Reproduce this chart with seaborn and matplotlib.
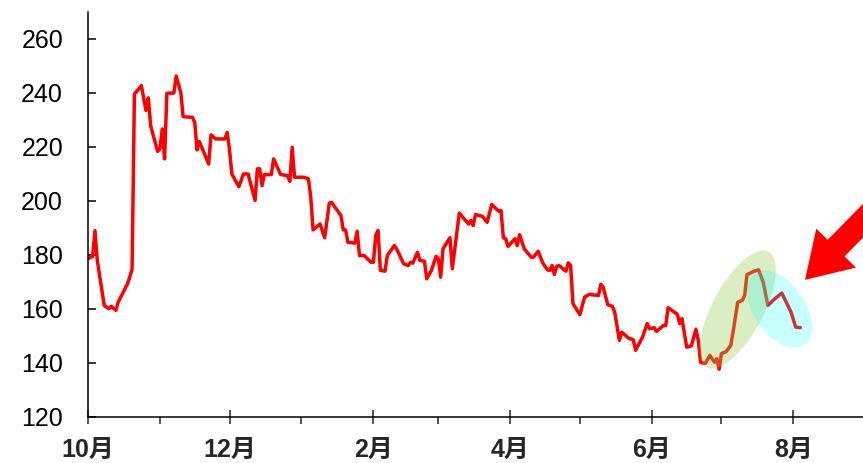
import pandas as pd
import seaborn as sns
import matplotlib.pyplot as plt
import matplotlib.dates as mdates
from matplotlib.patches import Ellipse
from matplotlib.transforms import ScaledTranslation
from matplotlib.ticker import FuncFormatter

# price series (days counted from the start date)
start_date = "2018-10-01"
end_date = "2019-08-31"
day_offset = [0, 2, 3, 4, 7, 9, 10, 12, 13, 17, 18, 19, 20, 23, 25, 26, 27, 30, 31, 32,
              33, 34, 37, 38, 40, 41, 45, 46, 47, 48, 52, 53, 55, 59, 60, 61, 62, 65, 67, 69,
              72, 73, 74, 75, 76, 79, 80, 83, 86, 87, 88, 89, 93, 95, 96, 97, 100, 102, 104, 105,
              109, 110, 111, 112, 115, 116, 117, 119, 122, 123, 124, 125, 126, 128, 129, 132, 133, 136, 138, 139,
              140, 142, 143, 145, 146, 148, 150, 151, 152, 153, 156, 157, 160, 164, 165, 166, 167, 170, 172, 174,
              177, 178, 179, 180, 181, 184, 185, 186, 188, 191, 192, 194, 196, 198, 199, 200, 201, 202, 203, 206,
              207, 208, 209, 212, 214, 216, 220, 221, 222, 224, 226, 227, 229, 230, 233, 235, 236, 239, 241, 242,
              244, 245, 248, 249, 250, 254, 255, 256, 258, 260, 262, 263, 264, 266, 268, 270, 271, 272, 273, 275,
              277, 278, 280, 282, 283, 284, 287, 289, 291, 293, 296, 299, 303, 305, 307]
price = [178.6, 179.5, 189.0, 178.0, 161.3, 160.1, 161.0, 159.5, 162.5, 169.3, 171.8, 174.9, 239.6, 242.7, 233.5, 238.2, 227.9, 218.4, 219.3, 226.7,
         215.6, 239.9, 240.0, 246.3, 240.2, 231.2, 231.0, 229.1, 218.9, 222.0, 213.7, 224.5, 223.0, 223.0, 225.4, 218.9, 210.0, 205.3, 210.0, 210.0,
         200.2, 211.9, 211.9, 205.7, 209.8, 209.8, 215.6, 209.8, 209.4, 207.3, 219.9, 208.8, 208.8, 208.2, 201.4, 189.3, 191.5, 186.4, 199.2, 199.5,
         194.6, 189.3, 189.3, 184.7, 184.4, 188.8, 179.8, 179.8, 177.3, 177.3, 187.2, 189.1, 174.3, 174.0, 179.8, 183.5, 182.3, 176.8, 176.1, 177.3,
         177.0, 181.0, 178.0, 177.7, 171.2, 174.3, 179.5, 178.6, 171.8, 182.3, 186.4, 174.9, 195.5, 191.5, 192.8, 190.9, 195.0, 194.3, 192.1, 198.7,
         196.2, 196.5, 186.4, 186.0, 183.2, 186.0, 183.5, 187.5, 182.3, 179.2, 179.2, 181.4, 177.0, 174.5, 174.3, 176.1, 172.8, 175.8, 176.1, 174.0,
         177.1, 176.1, 162.0, 157.9, 164.4, 165.4, 165.0, 169.1, 168.1, 161.6, 161.0, 158.8, 148.4, 151.4, 149.2, 148.6, 144.7, 149.6, 154.6, 152.7,
         153.1, 151.7, 153.9, 153.9, 160.5, 158.0, 154.6, 156.4, 145.9, 146.3, 152.5, 148.4, 140.3, 139.8, 142.8, 140.3, 141.6, 137.7, 143.5, 144.2,
         146.5, 151.4, 162.5, 163.2, 165.0, 172.7, 174.0, 174.5, 169.9, 161.3, 163.8, 165.9, 158.8, 153.3, 153.1]

major_months = [10, 12, 2, 4, 6, 8]
minor_months = [11, 1, 3, 5, 7]
y_ticks = [120, 140, 160, 180, 200, 220, 240, 260]

# highlight ellipses: (centre date, centre value, width in, height in, angle, colour, alpha)
ellipses = [("2019-07-08", 159.8, 1.31, 0.51, 62, "#92d050", 0.35),
            ("2019-07-26", 160.0, 0.87, 0.51, -55, "#00ffff", 0.22)]
arrow_tip = ("2019-08-06", 170.8)

sns.set_style("ticks")
plt.rcParams['font.family'] = ['Liberation Sans', 'Noto Sans CJK SC', 'DejaVu Sans']

dates = pd.to_datetime(start_date) + pd.to_timedelta(day_offset, unit="D")
df = pd.DataFrame({"date": dates, "price": price})

fig = plt.figure(figsize=(8.63, 4.63), dpi=100)
ax = fig.add_axes([88/863, 46/463, 775/863, 405/463])

sns.lineplot(data=df, x="date", y="price", color="red", linewidth=2.5, ax=ax)

ax.set_xlim(pd.to_datetime(start_date), pd.to_datetime(end_date))
ax.set_ylim(120, 270)
ax.set_yticks(y_ticks)
ax.set_xlabel("")
ax.set_ylabel("")

ax.xaxis.set_major_locator(mdates.MonthLocator(bymonth=major_months))
ax.xaxis.set_minor_locator(mdates.MonthLocator(bymonth=minor_months))
ax.xaxis.set_major_formatter(FuncFormatter(lambda v, p: f"{mdates.num2date(v).month}月"))

ax.tick_params(axis="y", direction="in", length=6, width=1.1, labelsize=18, pad=18, colors="black")
ax.tick_params(axis="x", which="major", direction="inout", length=10, width=1.1, labelsize=18, pad=10)
ax.tick_params(axis="x", which="minor", direction="out", length=5, width=1.1)
for lab in ax.get_xticklabels():
    lab.set_fontweight("bold")

sns.despine(ax=ax)
for s in ["left", "bottom"]:
    ax.spines[s].set_linewidth(1.1)
    ax.spines[s].set_color("black")

for d, v, w, h, ang, col, a in ellipses:
    xn = mdates.date2num(pd.to_datetime(d))
    e = Ellipse((0, 0), w, h, angle=ang, facecolor=col, alpha=a, edgecolor="none",
                transform=fig.dpi_scale_trans + ScaledTranslation(xn, v, ax.transData), zorder=3)
    ax.add_patch(e)

ax.annotate("", xy=(pd.to_datetime(arrow_tip[0]), arrow_tip[1]), xytext=(905, 285),
            textcoords="figure pixels", annotation_clip=False,
            arrowprops=dict(arrowstyle="simple,head_length=32,head_width=40,tail_width=17",
                            mutation_scale=1, color="red", lw=0, shrinkA=0, shrinkB=0))

fig.savefig("out.png", dpi=100)
